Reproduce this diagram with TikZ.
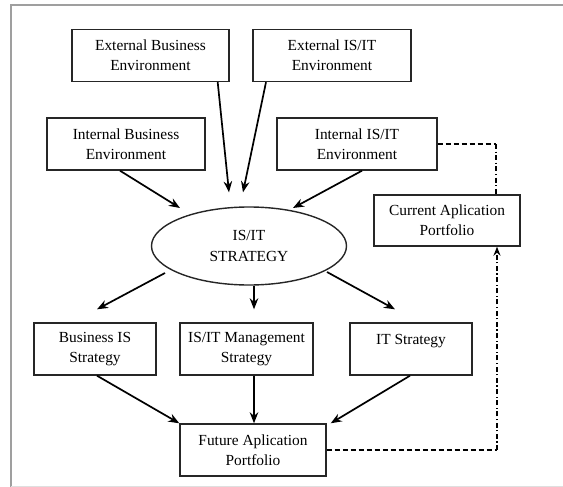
\documentclass[tikz,border=0pt]{standalone}
\usepackage{fontspec}
\setmainfont{Liberation Serif}
\usetikzlibrary{shapes.geometric, arrows, arrows.meta}
\tikzstyle{block} = [rectangle, 
draw=black!85, 
line width=1.4pt, 
minimum height=52pt, 
inner sep=0pt, 
align=center, 
font=\fontsize{15.4}{20}\selectfont]
\tikzstyle{hub} = [ellipse, 
draw=black!85, 
line width=1.4pt, 
minimum width=195pt, 
minimum height=78pt, 
inner sep=0pt, 
align=center, 
font=\fontsize{15.4}{21}\selectfont]
\tikzstyle{arrow} = [line width=1.7pt,->,>={Stealth[length=11pt,width=8.5pt]}]
\tikzstyle{feedh} = [line width=1.3pt, dash pattern=on 5pt off 3pt]
\tikzstyle{feedv} = [line width=1.3pt, dash pattern=on 5pt off 2.5pt on 1.2pt off 2.5pt, >={Stealth[length=9pt,width=7pt]}]

\begin{document}
\begin{tikzpicture}[x=1pt, y=-1pt]
        \useasboundingbox (0,0) rectangle (563,487);
        % frame
        \draw [gray!75, line width=1.6pt] (563,5) -- (11,5) -- (11,487);
        \draw [gray!25, line width=1pt] (11,486) -- (563,486);
        % inputs
        \node (extbus) [block, minimum width=157pt] at (150.5,55.5) {External Business\\Environment};
        \node (extit) [block, minimum width=158pt] at (332,55.5) {External IS/IT\\Environment};
        \node (intbus) [block, minimum width=158pt] at (126,144) {Internal Business\\Environment};
        \node (intit) [block, minimum width=160pt] at (357,144) {Internal IS/IT\\Environment};
        \node (curapp) [block, minimum width=146pt, minimum height=51pt] at (447,220.5) {Current Aplication\\Portfolio};
        \node (strategy) [hub] at (249,246) {IS/IT\\STRATEGY};
        % outputs
        \node (busis) [block, minimum width=122pt] at (95,349) {Business IS\\Strategy};
        \node (mgmt) [block, minimum width=133pt] at (246.5,349) {IS/IT Management\\Strategy};
        \node (itstr) [block, minimum width=122pt] at (411,349) {IT Strategy\\\mbox{}};
        \node (future) [block, minimum width=146pt] at (253,450) {Future Aplication\\Portfolio};
        % arrows in
        \draw [arrow] ([xshift=-12pt]extbus.south east) -- ([xshift=-20pt,yshift=14pt]strategy.north);
        \draw [arrow] ([xshift=-66pt]extit.south) -- ([xshift=-6pt,yshift=14pt]strategy.north);
        \draw [arrow] ([xshift=-6pt]intbus.south) -- ([xshift=-69pt,yshift=38pt]strategy.center);
        \draw [arrow] ([xshift=5pt]intit.south) -- ([xshift=44pt,yshift=38pt]strategy.center);
        % arrows out
        \draw [arrow] ([xshift=-84pt,yshift=-27pt]strategy.center) -- ([xshift=2pt,yshift=13pt]busis.north);
        \draw [arrow] ([xshift=5pt]strategy.south) -- ([xshift=7.5pt,yshift=13pt]mgmt.north);
        \draw [arrow] ([xshift=78pt,yshift=-26pt]strategy.center) -- ([xshift=-16pt,yshift=13pt]itstr.north);
        \draw [arrow] ([xshift=2pt]busis.south) -- (future.north west);
        \draw [arrow] ([xshift=7.5pt]mgmt.south) -- ([xshift=1pt]future.north);
        \draw [arrow] ([xshift=-1pt]itstr.south) -- ([xshift=4pt]future.north east);
        % feedback loop
        \coordinate (cortop) at ([xshift=49pt]curapp.north |- intit.east);
        \coordinate (corbot) at ([xshift=50pt]curapp.south |- future.east);
        \draw [feedh] (intit.east) -- (cortop);
        \draw [feedv] (cortop) -- ([xshift=49pt]curapp.north);
        \draw [feedh] (future.east) -- (corbot);
        \draw [feedv, ->] (corbot) -- ([xshift=50pt]curapp.south);
    \end{tikzpicture}
\end{document}
